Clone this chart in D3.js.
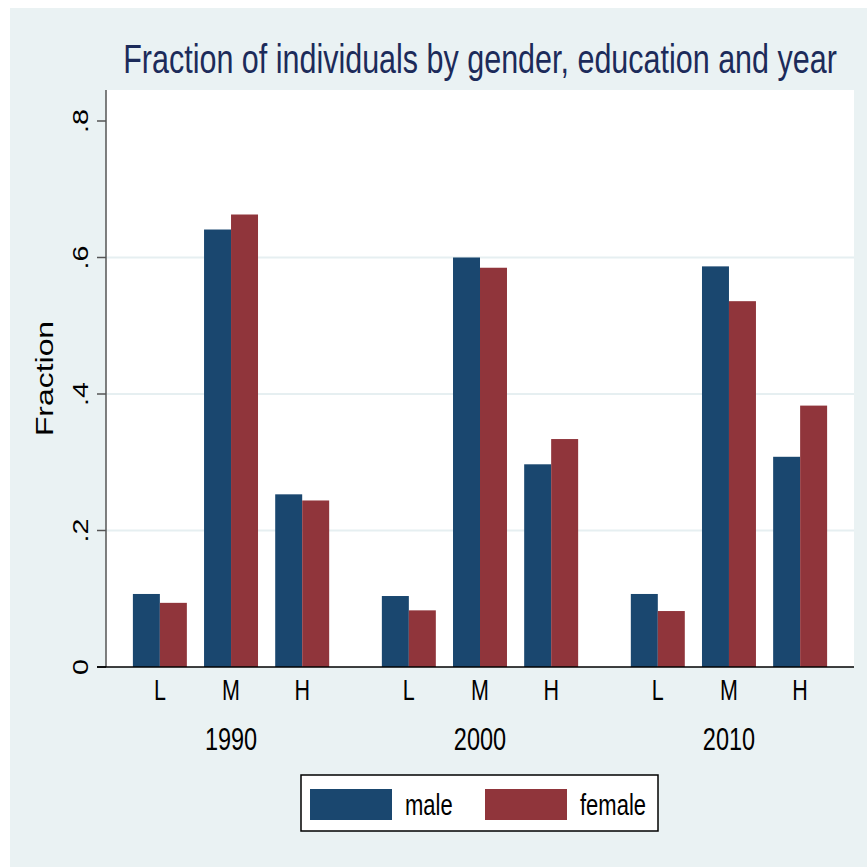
<!DOCTYPE html>
<html>
<head>
<meta charset="UTF-8">
<title>Fraction of individuals</title>
<style>
  body { margin: 0; background: #fff; }
  text { font-family: "Liberation Sans", Arial, sans-serif; }
</style>
</head>
<body>
<div id="chart"></div>
<script src="https://cdn.jsdelivr.net/npm/d3@7"></script>
<script>
// data
const years = ["1990", "2000", "2010"];
const levels = ["L", "M", "H"];
const sexes = ["male", "female"];
const maleValues = [
  [0.107, 0.641, 0.253],   // 1990
  [0.104, 0.600, 0.297],   // 2000
  [0.107, 0.587, 0.308]    // 2010
];
const femaleValues = [
  [0.094, 0.663, 0.244],
  [0.083, 0.585, 0.334],
  [0.082, 0.536, 0.383]
];
const yTicks = [0, 0.2, 0.4, 0.6, 0.8];
const yTickLabels = ["0", ".2", ".4", ".6", ".8"];

const W = 867, H = 867;
const plot = {left: 106, right: 854, top: 90, bottom: 667};
const color = d3.scaleOrdinal().domain(sexes).range(["#1a476f", "#90353b"]);
const stretch = 1.33; // text in the picture is taller than it is wide

const svg = d3.select("#chart").append("svg")
  .attr("width", W).attr("height", H);

// background
svg.append("rect").attr("x", 10).attr("y", 8)
  .attr("width", W - 10).attr("height", H - 8)
  .attr("fill", "#eaf2f3");
svg.append("rect").attr("x", plot.left).attr("y", plot.top)
  .attr("width", plot.right - plot.left).attr("height", plot.bottom - plot.top)
  .attr("fill", "#fff");

// scales
const y = d3.scaleLinear().domain([0, 0.8]).range([plot.bottom, plot.bottom - 546]);
const x0 = d3.scaleBand().domain(years).range([plot.left, plot.right])
  .paddingInner(0.2116).paddingOuter(0.108);
const x1 = d3.scaleBand().domain(levels).range([0, x0.bandwidth()])
  .paddingInner(0.2416).paddingOuter(0);
const x2 = d3.scaleBand().domain(sexes).range([0, x1.bandwidth()]);

// helper for stretched text
function label(g, txt, px, py, size, opts = {}) {
  const rot = opts.rotate ? " rotate(-90)" : "";
  return g.append("text")
    .attr("transform", `translate(${px},${py}) scale(1,${stretch})${rot}`)
    .attr("text-anchor", opts.anchor || "middle")
    .attr("font-size", size)
    .attr("fill", opts.fill || "#000")
    .text(txt);
}

// gridlines
svg.append("g").selectAll("line")
  .data(yTicks.filter(d => d > 0 && d < 0.8))
  .join("line")
    .attr("x1", plot.left).attr("x2", plot.right)
    .attr("y1", d => y(d)).attr("y2", d => y(d))
    .attr("stroke", "#e6eff1").attr("stroke-width", 2);

// bars
const rows = [];
years.forEach((yr, i) => levels.forEach((lv, j) => {
  rows.push({year: yr, level: lv, sex: "male", value: maleValues[i][j]});
  rows.push({year: yr, level: lv, sex: "female", value: femaleValues[i][j]});
}));
svg.append("g").selectAll("rect")
  .data(rows)
  .join("rect")
    .attr("x", d => x0(d.year) + x1(d.level) + x2(d.sex))
    .attr("y", d => y(d.value))
    .attr("width", x2.bandwidth())
    .attr("height", d => y(0) - y(d.value))
    .attr("fill", d => color(d.sex));

// y axis
const yAxis = svg.append("g");
yAxis.append("line")
  .attr("x1", plot.left).attr("x2", plot.left)
  .attr("y1", plot.top).attr("y2", plot.bottom)
  .attr("stroke", "#555").attr("stroke-width", 1.5);
yAxis.selectAll(".tick")
  .data(yTicks)
  .join("line")
    .attr("x1", plot.left - 9).attr("x2", plot.left)
    .attr("y1", d => y(d)).attr("y2", d => y(d))
    .attr("stroke", d => d === 0 ? "#000" : "#555").attr("stroke-width", 1.5);
yTicks.forEach((t, i) => label(yAxis, yTickLabels[i], 87.5, y(t), 21.5, {rotate: true}));

// x baseline
svg.append("line")
  .attr("x1", plot.left - 9).attr("x2", plot.right)
  .attr("y1", y(0)).attr("y2", y(0))
  .attr("stroke", "#000").attr("stroke-width", 1.5);

// x labels
years.forEach(yr => {
  levels.forEach(lv => {
    label(svg, lv, x0(yr) + x1(lv) + x1.bandwidth() / 2, 700, 21.5);
  });
  label(svg, yr, x0(yr) + x0.bandwidth() / 2, 750, 23.5);
});

// axis title
label(svg, "Fraction", 53, (plot.top + plot.bottom) / 2, 24, {rotate: true});

// title
label(svg, "Fraction of individuals by gender, education and year",
  (plot.left + plot.right) / 2, 73, 30.5, {fill: "#1c2b5a"});

// legend
const leg = svg.append("g");
leg.append("rect").attr("x", 301).attr("y", 775)
  .attr("width", 357).attr("height", 56)
  .attr("fill", "#fff").attr("stroke", "#000").attr("stroke-width", 1.5);
const legX = [310, 485];
sexes.forEach((s, i) => {
  leg.append("rect").attr("x", legX[i]).attr("y", 789)
    .attr("width", 82).attr("height", 31).attr("fill", color(s));
  label(leg, s, legX[i] + 95, 815, 22, {anchor: "start"});
});
</script>
</body>
</html>
